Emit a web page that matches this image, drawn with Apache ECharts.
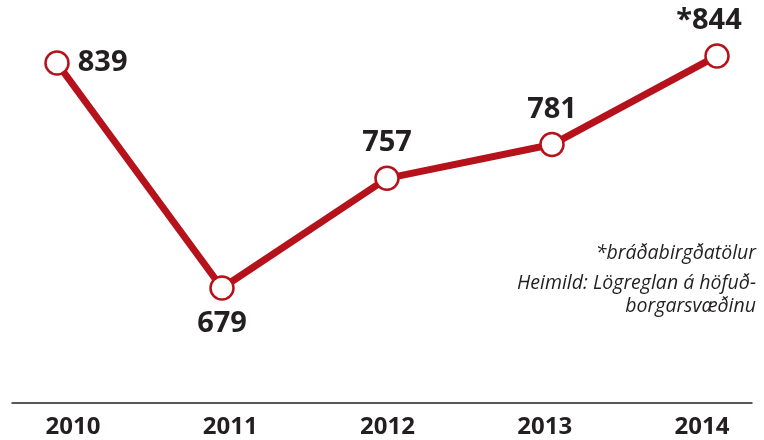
<!DOCTYPE html>
<html>
<head>
<meta charset="utf-8">
<script src="https://cdn.jsdelivr.net/npm/echarts@6/dist/echarts.min.js"></script>
<style>
  html, body { margin: 0; padding: 0; background: #fff; }
  #chart { width: 764px; height: 440px; }
</style>
</head>
<body>
<div id="chart"></div>
<script>
const years = ['2010', '2011', '2012', '2013', '2014']
const counts = [839, 679, 757, 781, 844]
const valueLabels = ['839', '679', '757', '781', '*844']
const labelSpots = ['right', 'bottom', 'top', 'top', 'top']
const noteLines = ['*bráðabirgðatölur', 'Heimild: Lögreglan á höfuð-', 'borgarsvæðinu']

const red = '#b5121b'
const ink = '#231f20'
const font = '"Open Sans", "Noto Sans", sans-serif'

const chart = echarts.init(document.getElementById('chart'))

const noteTops = [243, 273, 296]

const option = {
  animation: false,
  grid: [
    { left: 57, right: 47, top: 47.5, height: 281.3 },
    { left: 73, right: 62, top: 403, height: 0 },
    { left: 12, right: 12, top: 403, height: 0 }
  ],
  xAxis: [
    {
      gridIndex: 0,
      type: 'category',
      boundaryGap: false,
      data: years,
      show: false
    },
    {
      gridIndex: 1,
      type: 'category',
      boundaryGap: false,
      data: years,
      axisLine: { show: false },
      axisTick: { show: false },
      axisLabel: {
        color: ink,
        fontFamily: font,
        fontWeight: 'bold',
        fontSize: 24,
        margin: 12
      }
    },
    {
      gridIndex: 2,
      type: 'value',
      axisLine: { show: true, lineStyle: { color: ink, width: 1.5 } },
      axisTick: { show: false },
      axisLabel: { show: false },
      splitLine: { show: false }
    }
  ],
  yAxis: [
    { gridIndex: 0, type: 'value', min: 650, max: 850, show: false },
    { gridIndex: 1, type: 'value', show: false },
    { gridIndex: 2, type: 'value', show: false }
  ],
  graphic: noteLines.map((t, i) => ({
    type: 'text',
    right: 8,
    top: noteTops[i],
    style: {
      text: t,
      fill: ink,
      font: 'italic 19.5px ' + font,
      align: 'right'
    }
  })),
  series: [
    {
      type: 'line',
      xAxisIndex: 0,
      yAxisIndex: 0,
      data: counts.map((v, i) => ({
        value: v,
        label: {
          position: labelSpots[i],
          formatter: valueLabels[i],
          offset: i === 4 ? [-8, 0] : [0, 0]
        }
      })),
      lineStyle: { color: red, width: 7 },
      symbol: 'circle',
      symbolSize: 23,
      itemStyle: { color: '#fff', borderColor: red, borderWidth: 2.5 },
      label: {
        show: true,
        color: ink,
        fontFamily: font,
        fontWeight: 'bold',
        fontSize: 29,
        distance: 8
      },
      z: 3
    }
  ]
}

chart.setOption(option)
</script>
</body>
</html>
